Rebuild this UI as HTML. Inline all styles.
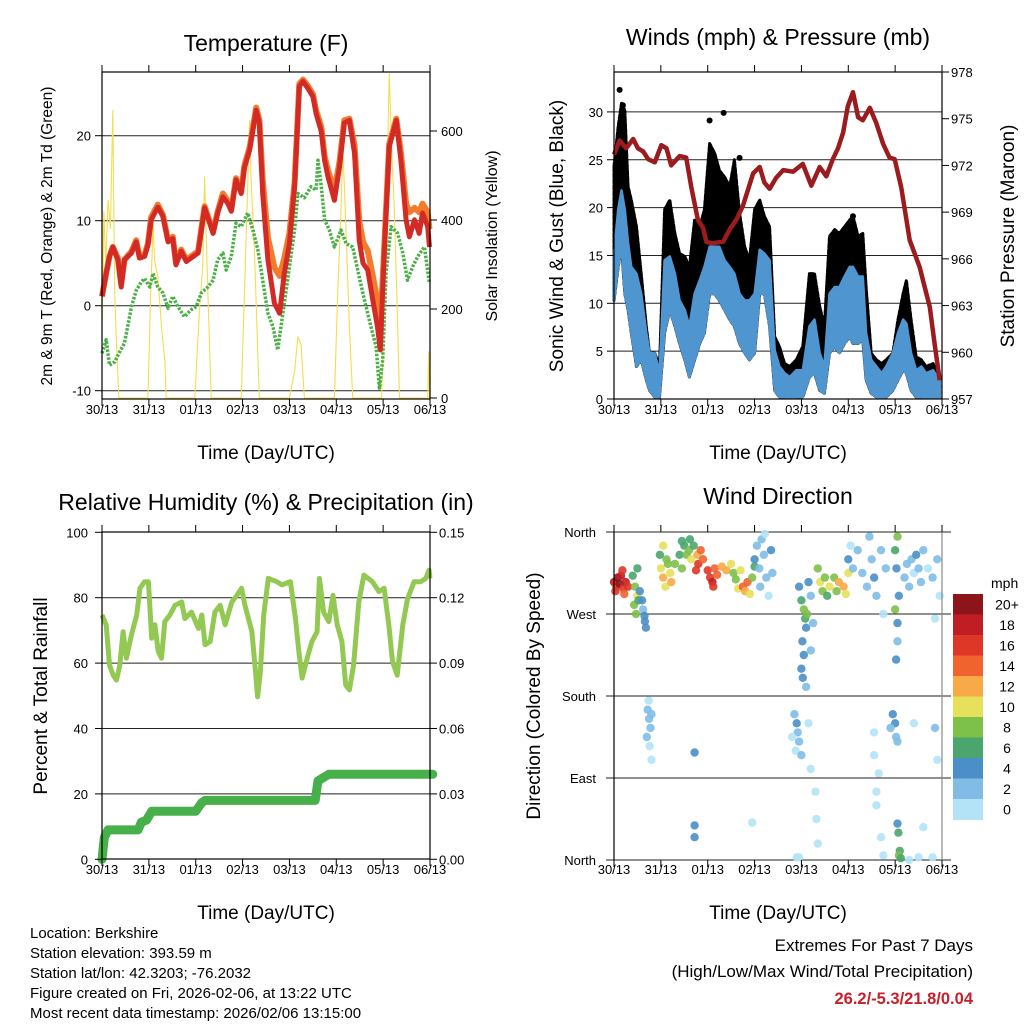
<!DOCTYPE html>
<html><head><meta charset="utf-8"><title>Station meteogram</title>
<style>
html,body{margin:0;padding:0;background:#fff;}
svg{display:block;font-family:"Liberation Sans",Arial,sans-serif;}
</style></head>
<body>
<svg id="chart" width="1024" height="1024" viewBox="0 0 1024 1024" xmlns="http://www.w3.org/2000/svg">
<rect x="0" y="0" width="1024" height="1024" fill="#fff"/>
<text x="266" y="51" font-size="23" text-anchor="middle">Temperature (F)</text>
<text x="778" y="45" font-size="23" text-anchor="middle">Winds (mph) &amp; Pressure (mb)</text>
<text x="266" y="510" font-size="23" text-anchor="middle">Relative Humidity (%) &amp; Precipitation (in)</text>
<text x="778" y="504" font-size="23" text-anchor="middle">Wind Direction</text>

<text transform="translate(52,236) rotate(-90)" font-size="15.5" text-anchor="middle">2m &amp; 9m T (Red, Orange) &amp; 2m Td (Green)</text>
<text transform="translate(497,236) rotate(-90)" font-size="16" text-anchor="middle">Solar Insolation (Yellow)</text>
<text transform="translate(563,236) rotate(-90)" font-size="19" text-anchor="middle">Sonic Wind &amp; Gust (Blue, Black)</text>
<text transform="translate(1014,236) rotate(-90)" font-size="19" text-anchor="middle">Station Pressure (Maroon)</text>
<text transform="translate(47,696) rotate(-90)" font-size="19" text-anchor="middle">Percent &amp; Total Rainfall</text>
<text transform="translate(540,696) rotate(-90)" font-size="19" text-anchor="middle">Direction (Colored By Speed)</text>

<text x="266" y="459" font-size="19" text-anchor="middle">Time (Day/UTC)</text>
<text x="778" y="459" font-size="19" text-anchor="middle">Time (Day/UTC)</text>
<text x="266" y="919" font-size="19" text-anchor="middle">Time (Day/UTC)</text>
<text x="778" y="919" font-size="19" text-anchor="middle">Time (Day/UTC)</text>

<g font-size="15">
<text x="30" y="938">Location: Berkshire</text>
<text x="30" y="958">Station elevation: 393.59 m</text>
<text x="30" y="978">Station lat/lon: 42.3203; -76.2032</text>
<text x="30" y="998">Figure created on Fri, 2026-02-06, at 13:22 UTC</text>
<text x="30" y="1018">Most recent data timestamp: 2026/02/06 13:15:00</text>
</g>
<text x="973" y="951" font-size="17" text-anchor="end">Extremes For Past 7 Days</text>
<text x="973" y="977" font-size="17" text-anchor="end">(High/Low/Max Wind/Total Precipitation)</text>
<text x="973" y="1004" font-size="16.5" font-weight="bold" fill="#c8202a" text-anchor="end">26.2/-5.3/21.8/0.04</text>
</svg>
<script>
// ---------- data ----------
const dayLabels = ['30/13','31/13','01/13','02/13','03/13','04/13','05/13','06/13'];
const tempTicks = [-10,0,10,20];
const solarTicks = [0,200,400,600];
const windTicks = [0,5,10,15,20,25,30];
const pressTicks = [957,960,963,966,969,972,975,978];
const rhTicks = [0,20,40,60,80,100];
const rainTicks = ['0.00','0.03','0.06','0.09','0.12','0.15'];
const dirLabels = ['North','East','South','West','North'];
const dirTickDeg = [0,90,180,270,360];
const speedBins = ['0','2','4','6','8','10','12','14','16','18','20+'];
const speedColors = ['#b3e3f7','#80bce6','#4a8fc7','#4aa56e','#7dc04a','#e6e05b','#f7aa47','#f0632e','#de3627','#c01d24','#8d1519'];

const tempDays = [0,.09,.16,.23,.34,.41,.48,.63,.73,.80,.91,.98,1.05,1.19,1.30,1.41,1.51,1.58,1.69,1.80,1.90,2.05,2.19,2.37,2.47,2.58,2.69,2.76,2.86,2.97,3.04,3.15,3.29,3.36,3.43,3.54,3.68,3.79,3.89,4.00,4.11,4.21,4.29,4.39,4.50,4.57,4.68,4.75,4.82,4.96,5.07,5.17,5.28,5.39,5.49,5.57,5.67,5.78,5.88,5.94,6.03,6.13,6.28,6.38,6.49,6.56,6.67,6.77,6.84,6.95,6.99];
const temp9m = [1.1,3.8,5.8,6.9,5.4,2.2,5.4,6.2,7.5,5.6,5.8,7.1,10.1,11.6,10.5,7.5,7.9,4.8,6.4,5.2,5.6,6.2,11.5,8.5,10.9,12.8,12.0,11.1,14.8,13.2,16.2,18.3,23.0,21.5,13.2,5.4,0.3,-0.9,3.8,7.3,14.0,25.8,26.4,25.6,24.6,22.6,20.5,17.1,15.2,12.4,16.4,21.5,21.8,17.9,7.7,5.0,4.2,0.7,-2.5,-5.2,6.9,18.7,21.8,17.1,10.1,8.1,10.1,8.5,10.9,9.3,6.9];
const temp2m = [1.1,3.8,5.8,6.9,5.6,2.6,5.4,6.4,7.7,5.8,6.0,7.3,10.4,11.9,10.7,7.7,8.1,5.0,6.6,5.4,5.8,6.4,11.7,8.7,11.1,13.2,12.3,11.3,15.0,13.4,16.5,18.6,23.3,21.8,14.8,8.0,4.5,3.5,5.6,8.5,14.5,26.1,26.6,25.9,24.9,23.0,21.0,17.6,16.0,13.5,17.0,21.8,22.0,18.8,10.0,7.5,6.5,3.5,0.5,-2.5,7.5,19.0,22.0,18.0,12.0,11.0,11.5,11.0,12.0,11.0,9.0];
const dewDays = [0,.09,.16,.27,.38,.48,.63,.73,.84,.91,1.02,1.09,1.19,1.30,1.41,1.51,1.62,1.76,1.90,2.01,2.12,2.26,2.37,2.47,2.58,2.65,2.76,2.86,2.97,3.11,3.22,3.33,3.43,3.54,3.65,3.75,3.86,3.97,4.11,4.18,4.32,4.46,4.57,4.61,4.68,4.75,4.85,4.96,5.10,5.21,5.35,5.49,5.60,5.74,5.85,5.92,5.99,6.06,6.17,6.31,6.42,6.52,6.63,6.74,6.88,6.99];
const dewPoint = [-5.6,-4.0,-7.0,-6.6,-5.4,-4.4,-0.1,1.8,2.8,3.2,2.2,3.8,2.2,1.5,-0.3,1.1,-0.1,-1.3,-0.5,-0.1,1.5,2.2,3.0,5.4,6.2,4.2,5.8,9.7,9.3,10.9,8.9,6.5,3.0,-0.9,-2.5,-5.2,-0.9,3.4,8.9,13.2,12.7,14.0,13.6,17.1,14.0,10.1,8.9,6.9,8.9,7.3,6.9,3.4,0.7,-2.5,-4.8,-9.7,-6.4,3.8,9.3,8.5,6.2,3.0,4.6,5.8,6.9,2.6];
const solarDays = [0,.04,.08,.13,.18,.23,.27,.31,.36,.98,1.04,1.09,1.12,1.19,1.27,1.34,1.37,1.98,2.08,2.15,2.19,2.26,2.33,2.97,3.04,3.10,3.15,3.18,3.26,3.33,3.36,4.00,4.11,4.18,4.25,4.32,4.96,5.03,5.10,5.14,5.21,5.28,5.35,5.97,6.04,6.10,6.13,6.19,6.24,6.31,6.35,6.95,6.97,6.99];
const solarVals = [150,420,300,445,380,647,240,120,0,0,235,393,310,273,160,85,0,0,198,295,497,235,0,0,235,445,625,497,310,85,0,0,60,138,120,0,0,235,422,565,373,160,0,0,310,572,730,535,422,160,0,0,105,0];

const windDays = [0,.09,.16,.23,.30,.37,.48,.58,.69,.76,.87,.97,1.08,1.19,1.30,1.40,1.51,1.61,1.72,1.83,1.93,2.04,2.15,2.25,2.36,2.47,2.57,2.68,2.79,2.89,3.00,3.11,3.21,3.32,3.43,3.53,3.64,3.75,3.89,4.03,4.17,4.28,4.39,4.49,4.60,4.71,4.81,4.92,5.03,5.10,5.21,5.31,5.38,5.49,5.60,5.71,5.81,5.95,6.06,6.17,6.24,6.34,6.45,6.56,6.66,6.81,6.95];
const windHi = [15.2,19.8,21.8,19.8,16.3,13.8,13.1,11.0,6.9,4.8,4.8,2.7,14.5,14.9,13.1,10.3,9.3,7.6,11.0,12.4,13.8,15.9,15.9,15.9,14.5,13.8,13.1,11.0,10.3,10.3,11.0,15.6,15.2,14.5,5.1,3.4,2.7,2.3,3.0,3.0,7.6,8.3,4.8,3.4,11.0,11.7,11.7,12.8,13.8,13.8,12.8,12.8,6.9,4.1,3.4,2.7,3.4,4.8,6.9,8.3,7.9,4.8,3.0,3.4,2.7,3.0,2.0];
const windLo = [10.3,13.8,15.9,11.0,9.3,6.9,3.4,4.1,2.0,0.9,0.2,0.2,6.9,9.3,7.6,5.8,4.1,2.3,4.1,5.8,6.9,11.0,11.0,10.3,9.3,8.3,7.6,5.8,4.8,4.1,4.8,11.0,11.0,7.6,0.9,0.2,0.2,0.1,0.2,0.2,2.3,2.7,0.9,0.6,4.8,5.5,4.8,5.8,6.5,5.8,5.8,6.2,2.0,0.6,0.2,0.1,0.2,0.9,2.0,3.0,2.7,0.9,0.2,0.2,0.1,0.2,0.1];
const gustHi = [24.3,28.5,30.9,30.2,22.2,20.8,18.0,13.1,7.6,4.8,4.8,3.4,19.8,20.8,17.3,15.2,14.9,13.8,18.7,18.0,19.8,26.7,25.7,23.9,23.2,22.2,25.0,19.4,15.9,14.5,19.8,20.8,19.1,18.0,6.5,5.5,3.7,3.4,4.1,5.5,13.1,13.1,9.7,7.6,17.0,17.7,17.3,18.0,18.7,19.1,17.0,17.3,11.7,4.8,4.1,3.7,4.1,4.8,8.3,11.0,12.4,8.3,4.4,4.1,3.4,3.7,2.3];
const gustOutDays = [.12,.19,2.04,2.34,2.68,5.10];
const gustOutVals = [32.3,30.7,29.1,29.9,25.2,19.1];
const pressDays = [0,.12,.26,.41,.51,.62,.73,.87,1.01,1.12,1.22,1.40,1.54,1.65,1.79,1.90,1.97,2.08,2.33,2.47,2.61,2.75,2.97,3.11,3.21,3.32,3.46,3.61,3.82,4.03,4.21,4.39,4.53,4.67,4.78,4.89,4.99,5.10,5.21,5.31,5.46,5.60,5.74,5.88,5.99,6.13,6.31,6.52,6.74,6.84,6.95];
const pressVals = [972.7,973.6,973.1,973.7,973.1,972.9,972.4,972.2,973.3,973.1,972.0,972.6,972.5,970.6,968.5,968.0,967.1,967.0,967.1,967.9,968.5,969.4,971.5,971.9,970.9,970.5,971.2,971.7,971.6,972.1,970.7,971.9,971.3,972.4,973.1,974.1,975.8,976.7,975.1,974.9,975.7,974.7,973.4,972.5,972.4,970.6,967.2,965.5,962.9,960.6,958.2];

const rhDays = [0,.09,.16,.24,.31,.38,.45,.52,.63,.74,.81,.91,.99,1.06,1.13,1.20,1.27,1.34,1.45,1.56,1.70,1.77,1.91,2.06,2.13,2.20,2.31,2.41,2.52,2.63,2.77,2.88,2.98,3.05,3.20,3.27,3.32,3.38,3.45,3.55,3.73,3.84,4.02,4.13,4.20,4.27,4.38,4.48,4.59,4.64,4.73,4.84,4.93,5.02,5.12,5.20,5.28,5.37,5.48,5.59,5.77,5.91,6.02,6.12,6.20,6.30,6.42,6.52,6.66,6.80,6.91,6.98,7.0];
const rhVals = [74.7,71.7,59.4,56.3,54.8,59.4,69.6,61.5,68.7,74.7,82.9,84.9,84.9,67.6,71.7,63.6,61.5,72.7,74.7,77.7,78.7,73.6,75.6,70.6,74.7,65.6,66.6,75.6,77.7,71.7,78.7,80.7,82.9,77.7,69.6,58.4,49.7,57.4,74.7,85.9,84.9,83.9,84.9,73.6,63.6,55.4,61.5,66.6,69.6,85.9,75.6,72.7,80.7,71.7,66.6,53.3,51.8,59.4,78.7,86.9,84.9,81.9,82.9,71.7,60.5,56.3,71.7,79.6,84.9,84.9,85.9,88.4,85.9];
const rainDays = [0,.05,.13,.77,.84,.95,1.06,2.0,2.13,2.2,4.55,4.61,4.84,7.06];
const rainVals = [0,.010,.0135,.0135,.017,.018,.022,.022,.026,.027,.027,.036,.039,.039];

const dirDays = [0,.05,.08,.12,.15,.2,.25,.3,.03,.18,.22, .4,.45,.5,.43,.52,.55,.6,.62,.65,.66,.5,.47,.68, 1.0,1.05,1.1,1.12,1.05,1.15,1.2,1.22,.98, 1.3,1.4,1.45,1.5,1.55,1.6,1.65,1.7,1.78,1.8,1.85,1.9,1.75,1.62,1.45, 2.0,2.05,2.1,2.15,2.2,2.3,2.4,2.5,2.55,2.6,2.65,2.12, 2.75,2.8,2.85,2.9,2.95,2.7,3.0, 3.0,3.05,3.1,3.15,3.2,3.25,3.3,3.35,3.38,3.12,3.22, 3.95,4.0,4.05,4.08,4.1,4.02,4.05,4.0,4.03,4.1,4.15,4.2,4.25,4.2,4.12, 4.35,4.4,4.45,4.5,4.6,4.7,4.75,4.8,4.9,4.95,5.0,4.55, 5.0,5.1,5.2,5.3,5.4,5.5,5.55,5.6,5.45,5.7,5.75,5.8,5.05, 6.0,6.05,6.03,6.08,6.0,6.05,6.02,6.05,6.05,6.07,6.1,6.08,6.12, 6.2,6.25,6.3,6.35,6.4,6.5,6.55,6.6,6.7,6.8,6.9,6.95,6.45,6.85, .72,.75,.78,.8,.7,.76,.8,.74, 3.85,3.9,3.92,3.95,3.8,3.88,4.0,4.2,4.15, 5.95,6.0,6.02,5.9,6.05, 5.55,5.55,5.6,5.6,5.7,5.75,5.65,6.4,6.85,6.9, 1.72,1.72,1.72,2.95,3.9,3.95,4.3,4.32,4.35,6.5,6.8,6.6,6.3];
const dirDeg = [305,300,310,303,312,298,305,300,295,318,292, 312,300,290,280,285,295,285,275,268,262,320,270,255, 320,310,300,330,345,325,315,305,335, 325,335,320,345,335,340,330,345,335,325,340,330,318,352,350, 318,310,305,320,313,322,318,325,315,308,298,300, 300,295,305,292,310,318,322, 330,345,320,352,335,310,290,340,315,300,358, 300,285,275,265,255,240,225,210,200,190,305,290,260,230,270, 320,305,295,310,300,310,295,305,300,292,315,290, 330,320,340,315,300,330,310,290,355,340,270,320,345, 340,355,320,290,275,260,220,240,40,30,10,5,2, 310,325,300,330,315,320,305,340,320,310,330,290,335,265, 165,155,145,160,135,125,110,175, 160,150,140,130,135,120,115,100,150, 160,150,135,145,130, 140,115,75,60,25,5,95,150,145,110, 118,38,25,41,3,3,75,45,18,3,3,36,0];
const dirSpd = [18,16,20,21,18,17,19,16,16,17,15, 6,8,10,8,6,4,4,3,4,4,7,8,4, 10,12,11,9,11,8,10,12,7, 8,7,9,6,8,9,10,7,13,16,15,14,17,6,7, 16,17,18,14,15,13,12,10,9,8,10,17, 14,13,14,11,9,10,7, 4,3,3,2,2,3,1,4,2,2,1, 4,6,8,6,4,4,4,5,4,3,4,3,2,2,9, 8,10,9,9,10,8,9,13,12,10,11,7, 4,3,3,2,2,3,4,2,2,2,1,2,1, 6,8,4,4,8,4,4,2,4,6,7,8,6, 3,2,3,2,1,3,2,2,1,2,2,1,4,1, 2,2,2,2,2,1,1,1, 2,4,3,3,1,1,3,1,1, 4,4,3,2,2, 1,1,1,1,1,1,1,1,2,1, 4,4,4,1,1,1,1,1,1,1,1,1,1];

// ---------- helpers ----------
const NS = 'http://www.w3.org/2000/svg';
const svg = document.getElementById('chart');
function mk(tag, attrs, parent){
  const e = document.createElementNS(NS, tag);
  for (const k in attrs) e.setAttribute(k, attrs[k]);
  (parent || svg).appendChild(e);
  return e;
}
function lin(d0,d1,r0,r1){ return v => r0 + (v-d0)/(d1-d0)*(r1-r0); }
function pathFrom(xs, ys, fx, fy){
  return xs.map((t,i)=>(i?'L':'M')+fx(t).toFixed(1)+','+fy(ys[i]).toFixed(1)).join('');
}

const panels = {
  temp: {x0:102,x1:430,y0:72,y1:399},
  wind: {x0:614,x1:942,y0:72,y1:399},
  rh:   {x0:102,x1:430,y0:532,y1:859},
  dir:  {x0:614,x1:942,y0:532,y1:860}
};
const xT = lin(0,7,102,430);
const xW = lin(0,7,614,942);
const yTemp = lin(0,10,305.7,220.7);
const ySolar = lin(0,600,398,131);
const yWind = lin(0,30,399,111.9);
const yPress = lin(957,978,399,72);
const yRH = lin(0,100,859.3,532.3);
const yRain = lin(0,0.15,859.3,532.3);
const yDir = lin(0,360,860,532);

function xTicks(P, xs, withLabels, ly){
  const g = mk('g', {});
  
  
  dayLabels.forEach((lab,i)=>{
    const x = xs(i);
    mk('line',{x1:x,x2:x,y1:P.y0-7,y2:P.y0,stroke:'#000','stroke-width':1},g);
    mk('line',{x1:x,x2:x,y1:P.y1,y2:P.y1+7,stroke:'#000','stroke-width':1},g);
    const t = mk('text',{x:x,y:ly,'font-size':13,'text-anchor':'middle'},g);
    
    
    t.textContent = lab;
  });
}
function frame(P, name){
  const r = mk('rect',{x:P.x0,y:P.y0,width:P.x1-P.x0,height:P.y1-P.y0,fill:'none',stroke:'#000','stroke-width':1.2});
  
  
}
function grid(P, vals, fy, x0, x1){
  vals.forEach(v=>{
    const y = fy(v);
    const l = mk('line',{x1:x0===undefined?P.x0:x0,x2:x1===undefined?P.x1:x1,y1:y,y2:y,stroke:'#222','stroke-width':1});
    
    
  });
}
function yLabels(vals, labels, fy, x, anchor, tickX, tickDir){
  vals.forEach((v,i)=>{
    const y = fy(v);
    mk('line',{x1:tickX,x2:tickX+tickDir*7,y1:y,y2:y,stroke:'#000','stroke-width':1});
    const t = mk('text',{x:x,y:y+5,'font-size':13,'text-anchor':anchor});
    
    
    t.textContent = labels[i];
  });
}

// ---------- Panel 1: temperature ----------
(function(){
  const P = panels.temp;
  grid(P, tempTicks, yTemp);
  const sol = mk('path',{d:pathFrom(solarDays, solarVals, xT, ySolar),fill:'none',stroke:'#f6dc50','stroke-width':1.1});
  
  
  const dew = mk('path',{d:pathFrom(dewDays, dewPoint, xT, yTemp),fill:'none',stroke:'#4caf47','stroke-width':3.5,'stroke-dasharray':'2.5 1.5','stroke-linejoin':'round'});
  
  
  const t2 = mk('path',{d:pathFrom(tempDays, temp2m, xT, yTemp),fill:'none',stroke:'#f27b2c','stroke-width':6,'stroke-linejoin':'round'});
  
  
  const t9 = mk('path',{d:pathFrom(tempDays, temp9m, xT, yTemp),fill:'none',stroke:'#d42a26','stroke-width':5,'stroke-linejoin':'round'});
  
  
  frame(P,'temperature-plot-frame');
  xTicks(P, xT, true, 414);
  yLabels(tempTicks, tempTicks.map(String), yTemp, 91, 'end', P.x0, -1);
  yLabels(solarTicks, solarTicks.map(String), ySolar, 441, 'start', P.x1, 1);
})();

// ---------- Panel 2: winds ----------
(function(){
  const P = panels.wind;
  grid(P, windTicks.slice(1), yWind);
  let d = pathFrom(windDays, gustHi, xW, yWind);
  for (let i=windDays.length-1;i>=0;i--) d += 'L'+xW(windDays[i]).toFixed(1)+','+yWind(windLo[i]).toFixed(1);
  const g = mk('path',{d:d+'Z',fill:'#000',stroke:'#000','stroke-width':3,'stroke-linejoin':'round','stroke-dasharray':'4 2','stroke-linecap':'round'});
  
  
  gustOutDays.forEach((t,i)=>{
    const c = mk('circle',{cx:xW(t),cy:yWind(gustOutVals[i]),r:3,fill:'#000'});
    
    
  });
  let b = pathFrom(windDays, windHi, xW, yWind);
  for (let i=windDays.length-1;i>=0;i--) b += 'L'+xW(windDays[i]).toFixed(1)+','+yWind(windLo[i]).toFixed(1);
  const w = mk('path',{d:b+'Z',fill:'#4f95cf',stroke:'#4f95cf','stroke-width':2.5,'stroke-linejoin':'round'});
  
  
  const p = mk('path',{d:pathFrom(pressDays, pressVals, xW, yPress),fill:'none',stroke:'#9b1b1e','stroke-width':4.5,'stroke-linejoin':'round'});
  
  
  frame(P,'winds-plot-frame');
  xTicks(P, xW, true, 414);
  yLabels(windTicks, windTicks.map(String), yWind, 603, 'end', P.x0, -1);
  yLabels(pressTicks, pressTicks.map(String), yPress, 951, 'start', P.x1, 1);
})();

// ---------- Panel 3: RH & precip ----------
(function(){
  const P = panels.rh;
  grid(P, [20,40,60,80], yRH);
  const r = mk('path',{d:pathFrom(rhDays, rhVals, xT, yRH),fill:'none',stroke:'#93c953','stroke-width':5,'stroke-linejoin':'round'});
  
  
  const pr = mk('path',{d:pathFrom(rainDays, rainVals, xT, yRain),fill:'none',stroke:'#47b04a','stroke-width':9,'stroke-linejoin':'round','stroke-linecap':'round'});
  
  
  frame(P,'humidity-plot-frame');
  xTicks(P, xT, true, 874);
  yLabels(rhTicks, rhTicks.map(String), yRH, 88, 'end', P.x0, -1);
  yLabels(rainTicks.map(Number), rainTicks, yRain, 439, 'start', P.x1, 1);
})();

// ---------- Panel 4: wind direction ----------
(function(){
  const P = panels.dir;
  grid(P, dirTickDeg, yDir, 606, 951);
  dirDays.forEach((t,i)=>{
    const bin = Math.min(10, Math.floor(dirSpd[i]/2));
    const c = mk('circle',{cx:xW(t).toFixed(1),cy:yDir(dirDeg[i]).toFixed(1),r:4.2,fill:speedColors[bin],'fill-opacity':0.9});
    
    
  });
  const ax = mk('line',{x1:P.x0,x2:P.x0,y1:P.y0,y2:P.y1,stroke:'#000','stroke-width':1.2});
  
  
  const rx = mk('line',{x1:P.x1,x2:P.x1,y1:P.y0,y2:P.y1,stroke:'#888','stroke-width':1.2});
  
  
  dayLabels.forEach((lab,i)=>{
    const x = xW(i);
    mk('line',{x1:x,x2:x,y1:P.y0-7,y2:P.y0,stroke:'#000','stroke-width':1});
    mk('line',{x1:x,x2:x,y1:P.y1,y2:P.y1+7,stroke:'#000','stroke-width':1});
    const t = mk('text',{x:x,y:874,'font-size':13,'text-anchor':'middle'});
    
    
    t.textContent = lab;
  });
  dirTickDeg.forEach((v,i)=>{
    const t = mk('text',{x:596,y:yDir(v)+5,'font-size':13,'text-anchor':'end'});
    
    
    t.textContent = dirLabels[i];
  });
  const cb = mk('g',{});
  
  
  const top = 594, h = 20.5;
  const ttl = mk('text',{x:991,y:588,'font-size':14},cb);
  
  
  ttl.textContent = 'mph';
  speedBins.forEach((lab,i)=>{
    const k = speedBins.length-1-i;
    const y = top + i*h;
    const r = mk('rect',{x:953,y:y,width:30,height:h+0.5,fill:speedColors[k]},cb);
    
    
    const t = mk('text',{x:1007,y:y+h/2+5,'font-size':14,'text-anchor':'middle'},cb);
    
    
    t.textContent = speedBins[k];
  });
})();
</script>
</body></html>
